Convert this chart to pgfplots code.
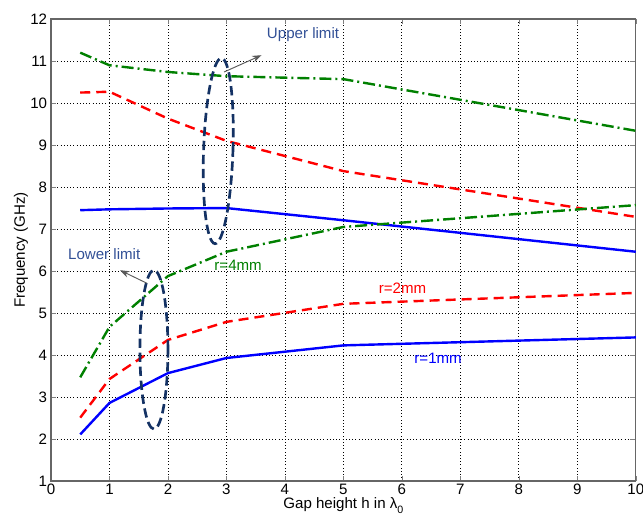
\documentclass[border=0pt]{standalone}
\usepackage{pgfplots}
\pgfplotsset{compat=1.18}
\usepackage{fontspec}
\setmainfont{Liberation Sans}
\usetikzlibrary{shapes.geometric,arrows.meta}
\definecolor{mblue}{RGB}{0,0,255}
\definecolor{mred}{RGB}{255,0,0}
\definecolor{mgreen}{RGB}{0,128,0}
\definecolor{navyell}{RGB}{20,50,100}
\definecolor{annot}{RGB}{50,80,150}
\begin{document}
\fontsize{11.3}{13.5}\selectfont
\begin{tikzpicture}
\begin{axis}[
    name=main,
    scale only axis,
    width=438pt, height=346pt,
    xmin=0, xmax=10, ymin=1, ymax=12,
    xtick={0,1,...,10}, ytick={1,2,...,12},
    tick align=inside, major tick length=4pt,
    grid=major, grid style={dotted, black, line width=0.6pt},
    axis line style={black!60, line width=0.9pt},
    xlabel={Gap height h in λ\raisebox{-0.6ex}{\footnotesize 0}},
    ylabel={Frequency (GHz)},
    xlabel style={yshift=5pt},
    ylabel style={yshift=-6pt},
    xticklabel style={yshift=2pt},
    yticklabel style={xshift=1pt},
    /pgf/number format/assume math mode=true,
    clip=false
]
% r=1mm
\addplot[mblue, line width=1.8pt] coordinates {(0.5,7.45) (1,7.47) (2,7.49) (3,7.5) (5,7.21) (10,6.46)};
\addplot[mblue, line width=1.8pt] coordinates {(0.5,2.11) (1,2.86) (2,3.57) (3,3.93) (5,4.23) (10,4.42)};
% r=2mm
\addplot[mred, line width=1.8pt, dash pattern=on 7.5pt off 4.5pt] coordinates {(0.5,10.25) (1,10.27) (2,9.63) (3,9.1) (5,8.38) (10,7.29)};
\addplot[mred, line width=1.8pt, dash pattern=on 7.5pt off 4.5pt] coordinates {(0.5,2.51) (1,3.43) (2,4.36) (3,4.79) (5,5.22) (10,5.48)};
% r=4mm
\addplot[mgreen, line width=1.8pt, dash pattern=on 9pt off 3pt on 1.5pt off 3pt] coordinates {(0.5,11.2) (1,10.9) (2,10.74) (3,10.64) (5,10.57) (10,9.34)};
\addplot[mgreen, line width=1.8pt, dash pattern=on 9pt off 3pt on 1.5pt off 3pt] coordinates {(0.5,3.47) (1,4.67) (2,5.88) (3,6.46) (5,7.05) (10,7.57)};
% ellipses
\node[draw=navyell, line width=2pt, dash pattern=on 7pt off 3.5pt, ellipse, inner sep=0pt, minimum width=22pt, minimum height=139pt, rotate=-2] at (axis cs:2.86,8.86) {};
\node[draw=navyell, line width=2pt, dash pattern=on 7pt off 3.5pt, ellipse, inner sep=0pt, minimum width=21pt, minimum height=119pt] at (axis cs:1.76,4.13) {};
% arrows
\draw[gray!70!black, line width=0.7pt, -{Stealth[length=7pt,width=5pt]}] (axis cs:2.96,10.74) -- (axis cs:3.6,11.14);
\draw[gray!70!black, line width=0.7pt, -{Stealth[length=7pt,width=5pt]}] (axis cs:1.64,5.71) -- (axis cs:1.18,6.02);
% labels
\node[annot] at (axis cs:4.31,11.62) {Upper limit};
\node[annot] at (axis cs:0.91,6.4) {Lower limit};
\node[mgreen] at (axis cs:3.2,6.14) {r=4mm};
\node[mred] at (axis cs:6.01,5.6) {r=2mm};
\node[mblue] at (axis cs:6.62,3.93) {r=1mm};
\end{axis}
\pgfresetboundingbox
\path (main.south west) ++(-38.2pt,-29.2pt) rectangle ++(481.6pt,389.5pt);
\end{tikzpicture}
\end{document}
